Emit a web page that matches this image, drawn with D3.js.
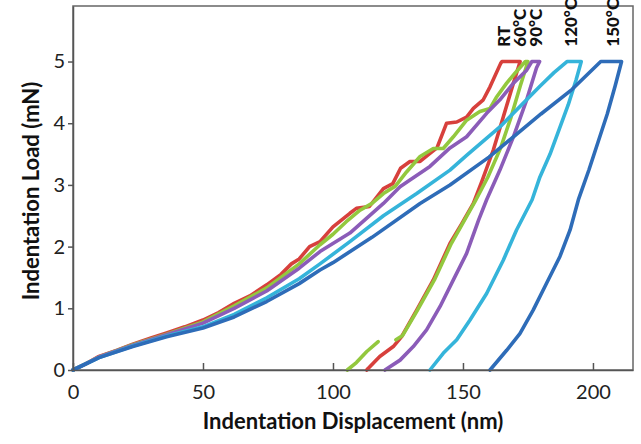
<!DOCTYPE html>
<html><head><meta charset="utf-8">
<script src="https://cdn.jsdelivr.net/npm/d3@7/dist/d3.min.js"></script>
<style>body{margin:0;background:#fff}svg{display:block}</style>
</head><body>
<svg id="chart" width="641" height="444"></svg>
<script>
// ---- data (displacement nm, load mN) ----
const xTicks = [0, 50, 100, 150, 200];
const yTicks = [0, 1, 2, 3, 4, 5];
const seriesNames = ["RT", "60°C", "90°C", "120°C", "150°C"];
const seriesColors = ["#d7403c", "#93c83e", "#8b5cb8", "#35b4da", "#2e6cb8"];
const labelDisp = [165.8, 171.9, 178.1, 191.5, 207.7];
const labelLoad = 5.24;

const rtCurve = [[0,0],[5,0.1],[10,0.22],[17,0.32],[23,0.42],[30,0.52],[36,0.6],[43,0.7],[50,0.81],[56,0.93],[62,1.08],[68,1.2],[74.5,1.38],[80,1.55],[84,1.72],[87,1.8],[91,2.0],[95,2.08],[100,2.32],[106.5,2.54],[109,2.62],[114,2.65],[119.4,2.94],[123,3.02],[126,3.27],[129.6,3.38],[133.5,3.38],[137.3,3.51],[140,3.6],[143.7,4.0],[147.6,4.02],[151.4,4.1],[154,4.24],[157.8,4.38],[160.4,4.59],[164.5,4.97],[165,5.0],[172,5.0],
  [169.4,4.65],[165.5,4.1],[161.7,3.57],[157.2,3.05],[154,2.7],[149.5,2.37],[145,2.05],[138.6,1.46],[132.2,0.97],[126.4,0.54],[123.2,0.38],[118,0.22],[113.6,0.03],[113,0]];
const c60Curve = [[0,0],[10,0.21],[23,0.41],[36,0.58],[50,0.78],[62,1.04],[74.5,1.33],[87,1.72],[95,2.03],[100,2.2],[105,2.4],[110.4,2.59],[115,2.7],[119.4,2.86],[124,2.98],[128.3,3.21],[133.5,3.46],[138.6,3.59],[142.4,3.59],[146.3,3.78],[151.4,4.05],[156.5,4.19],[160.4,4.24],[163,4.43],[166.8,4.65],[170,4.81],[174,5.0],[175,5.0],
  [172,4.6],[168.5,4.1],[164.5,3.6],[159.5,3.12],[154.5,2.72],[145.5,2.05],[139,1.46],[132.5,0.97],[126.8,0.56],[124.2,0.49]];
const c60Tail = [[117.4,0.46],[113,0.3],[109,0.12],[105.5,0]];
const c90Curve = [[0,0],[10,0.21],[23,0.4],[36,0.57],[50,0.76],[62,1.0],[74.5,1.28],[87,1.65],[95,1.92],[106.5,2.22],[119.4,2.7],[125.8,2.97],[129.6,3.08],[137.3,3.3],[145,3.6],[151.4,3.78],[159.1,4.16],[164.2,4.38],[169.4,4.65],[174.5,4.86],[176.5,5.0],[179.5,5.0],
  [178.3,4.9],[174.5,4.38],[169.4,3.78],[164.2,3.24],[159.1,2.76],[156,2.43],[151.4,1.89],[146.3,1.46],[141.2,1.03],[136,0.65],[130.9,0.38],[125.8,0.16],[120,0]];
const c120Curve = [[0,0],[10,0.2],[23,0.39],[36,0.55],[50,0.7],[62,0.9],[74.5,1.17],[87,1.48],[95,1.72],[106.5,2.08],[119.4,2.5],[132.2,2.86],[145,3.24],[151.4,3.48],[164.2,3.94],[179.6,4.6],[185,4.82],[190,5.0],[195.5,5.0],
  [193.5,4.7],[190.5,4.3],[187,3.9],[183.5,3.5],[179.6,3.13],[176.6,2.76],[170.6,2.27],[165.5,1.78],[159.1,1.24],[152.7,0.81],[147.6,0.49],[142.4,0.27],[137.3,0]];
const c150Curve = [[0,0],[10,0.2],[23,0.38],[36,0.54],[50,0.68],[62,0.86],[74.5,1.11],[87,1.4],[95,1.62],[100,1.74],[115,2.15],[133.5,2.7],[145,3.0],[160,3.45],[180,4.15],[192,4.55],[203,5.0],[211,5.0],
  [208.5,4.6],[205.5,4.15],[202,3.7],[198.5,3.25],[194.4,2.76],[191.2,2.27],[187.3,1.84],[182.2,1.41],[177,0.97],[171.9,0.59],[166.8,0.32],[160.4,0]];

const curves = [[rtCurve], [c60Curve, c60Tail], [c90Curve], [c120Curve], [c150Curve]];

// ---- layout ----
const svg = d3.select("#chart");
const L = 73, R = 633, T = 6, B = 370;
const x = d3.scaleLinear().domain([0, 215.4]).range([L, R]);
const y = d3.scaleLinear().domain([0, 5.9]).range([B, T]);
const font = "Lato, 'Open Sans', sans-serif";

// frame
svg.append("rect").attr("x", L).attr("y", T).attr("width", R - L).attr("height", B - T)
  .attr("fill", "none").attr("stroke", "#666").attr("stroke-width", 1.5);

// curves
const line = d3.line().x(d => x(d[0])).y(d => y(d[1])).curve(d3.curveLinear);
curves.forEach((parts, i) => {
  parts.forEach(p => {
    svg.append("path").datum(p).attr("d", line)
      .attr("fill", "none").attr("stroke", seriesColors[i]).attr("stroke-width", 3.6)
      .attr("stroke-linejoin", "round").attr("stroke-linecap", "round");
  });
});

// axes
const xAxis = d3.axisBottom(x).tickValues(xTicks).tickFormat(d3.format("d"))
  .tickSizeInner(-7).tickSizeOuter(0).tickPadding(15);
const gx = svg.append("g").attr("transform", `translate(0,${B})`).call(xAxis);
const yAxis = d3.axisLeft(y).tickValues(yTicks).tickFormat(d3.format("d"))
  .tickSizeInner(5).tickSizeOuter(0).tickPadding(3);
const gy = svg.append("g").attr("transform", `translate(${L},0)`).call(yAxis);
[gx, gy].forEach(g => {
  g.select(".domain").attr("stroke", "#555").attr("stroke-width", 1.5);
  g.selectAll(".tick line").attr("stroke", "#555").attr("stroke-width", 1.5);
  g.selectAll(".tick text").attr("font-family", font).attr("font-size", 20).attr("fill", "#222");
});

// axis titles
svg.append("text").attr("x", 353).attr("y", 429).attr("text-anchor", "middle")
  .attr("font-family", font).attr("font-weight", "bold").attr("font-size", 22).attr("fill", "#111")
  .text("Indentation Displacement (nm)");
svg.append("text").attr("transform", "translate(39,191) rotate(-90)").attr("text-anchor", "middle")
  .attr("font-family", font).attr("font-weight", "bold").attr("font-size", 22).attr("fill", "#111")
  .text("Indentation Load (mN)");

// series labels
seriesNames.forEach((n, i) => {
  svg.append("text")
    .attr("transform", `translate(${x(labelDisp[i])},${y(labelLoad)}) rotate(-90)`)
    .attr("dy", "0.36em").attr("text-anchor", "start")
    .attr("font-family", font).attr("font-weight", 900).attr("font-size", 17).attr("fill", "#111")
    .text(n);
});
</script>
</body></html>
